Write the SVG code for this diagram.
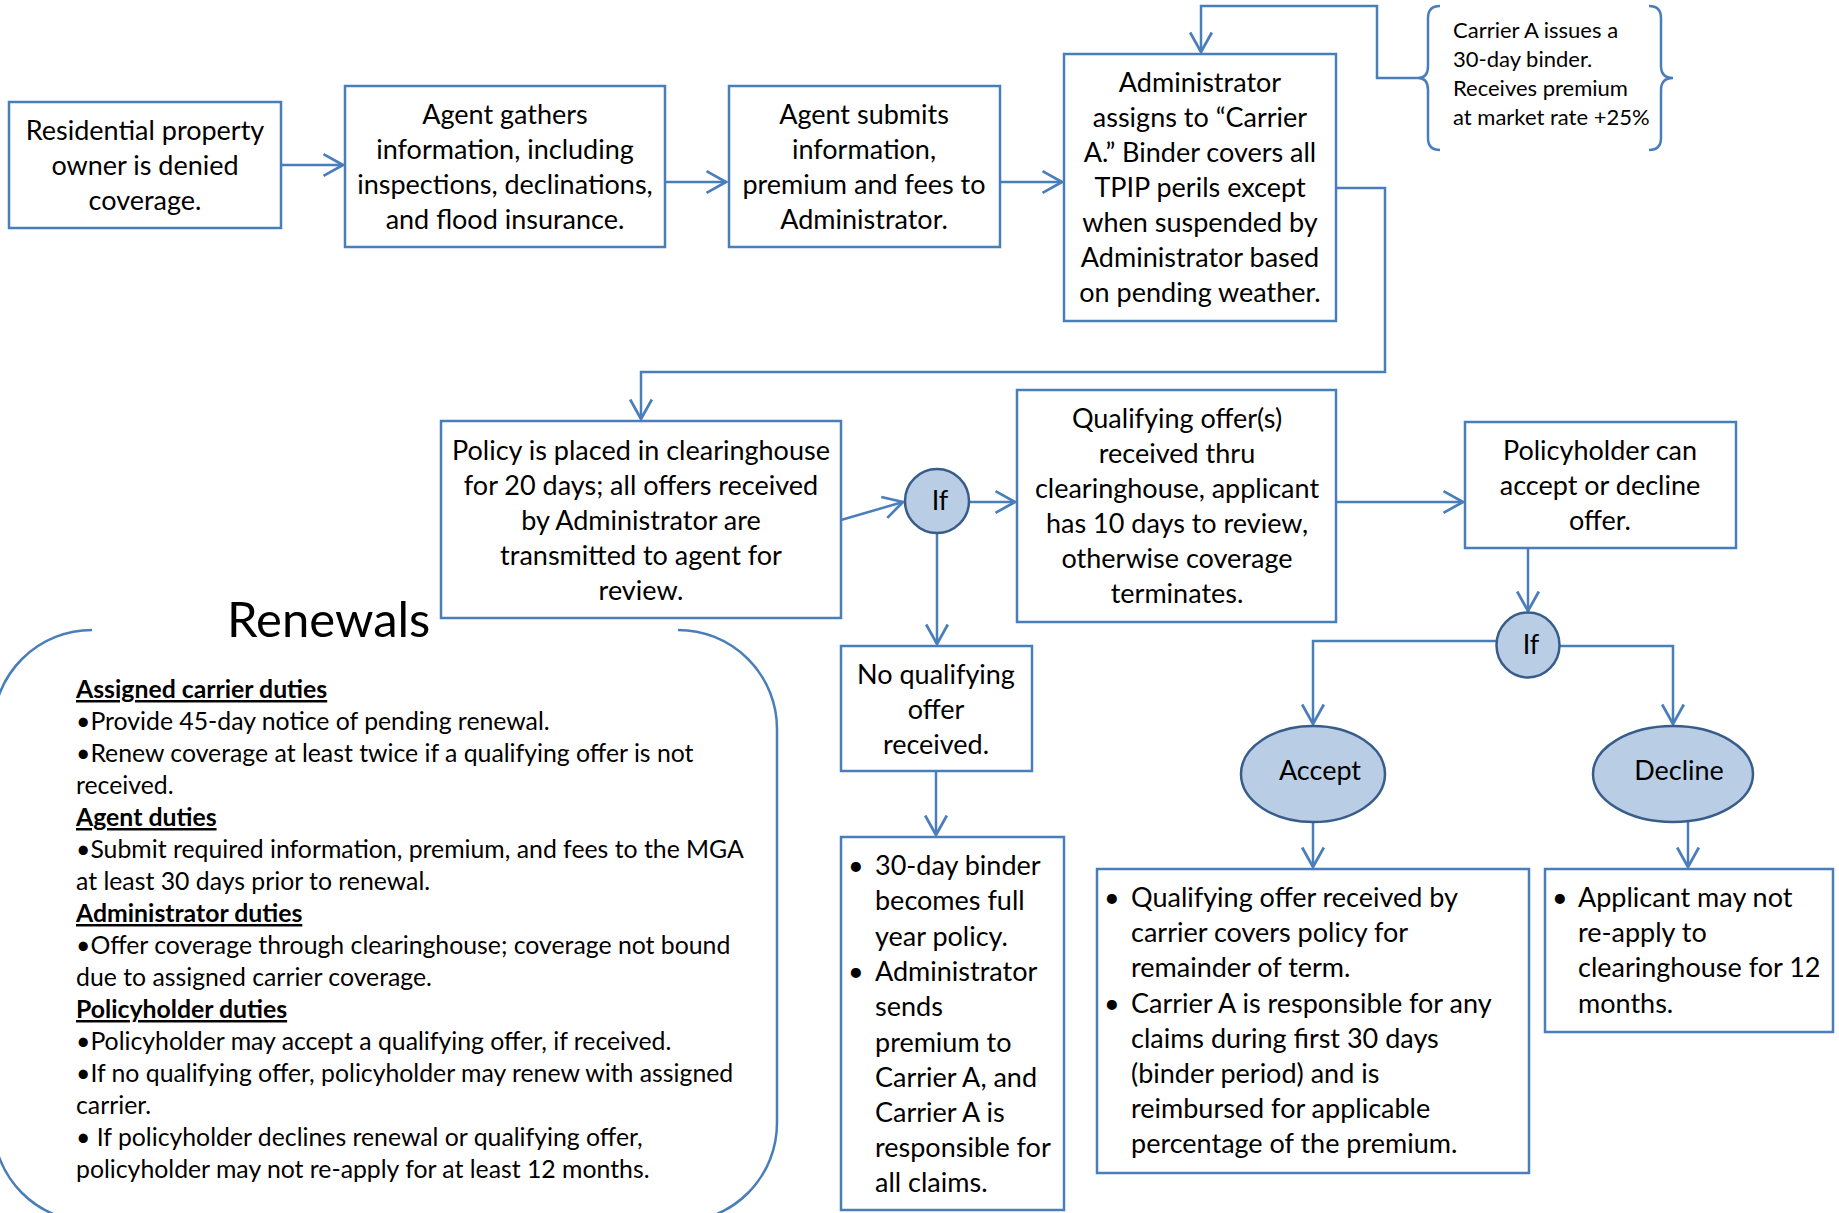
<svg xmlns="http://www.w3.org/2000/svg" width="1839" height="1213" viewBox="0 0 1839 1213">
<style>
  .box { fill: #ffffff; stroke: #4a7ebb; stroke-width: 2.5; }
  .dec { fill: #b9cde5; stroke: #385d8a; stroke-width: 2.5; }
  .con { fill: none; stroke: #4a7ebb; stroke-width: 2.5; }
  .t { font-family: Lato, "Liberation Sans", sans-serif; font-size: 27px; fill: #000; }
  .c { text-anchor: middle; }
  .s { font-family: Lato, "Liberation Sans", sans-serif; font-size: 22px; fill: #000; }
  .r { font-family: Lato, "Liberation Sans", sans-serif; font-size: 24.8px; fill: #000; }
  .h { font-weight: bold; text-decoration: underline; }
  .title { font-family: Lato, "Liberation Sans", sans-serif; font-size: 49px; fill: #000; }
</style>
<defs>
  <marker id="arr" markerUnits="userSpaceOnUse" markerWidth="24" markerHeight="26" viewBox="-20 -12 22 24" refX="0" refY="0" orient="auto">
    <path d="M-18,-10 L0,0 L-18,10" fill="none" stroke="#4a7ebb" stroke-width="2.5"/>
  </marker>
</defs>
<rect width="1839" height="1213" fill="#ffffff"/>

<g id="connectors">
  <path class="con" d="M281,165 L343,165" marker-end="url(#arr)"/>
  <path class="con" d="M665,182 L726,182" marker-end="url(#arr)"/>
  <path class="con" d="M1000,182 L1062,182" marker-end="url(#arr)"/>
  <path class="con" d="M1418,78 L1377,78 L1377,6 L1201,6 L1201,52" marker-end="url(#arr)"/>
  <path class="con" d="M1336,188 L1385,188 L1385,372 L641,372 L641,419" marker-end="url(#arr)"/>
  <path class="con" d="M841,520 L903,502" marker-end="url(#arr)"/>
  <path class="con" d="M969,502 L1015,502" marker-end="url(#arr)"/>
  <path class="con" d="M937,534 L937,644" marker-end="url(#arr)"/>
  <path class="con" d="M1337,502 L1463,502" marker-end="url(#arr)"/>
  <path class="con" d="M1528,548 L1528,611" marker-end="url(#arr)"/>
  <path class="con" d="M1497,641 L1313,641 L1313,724" marker-end="url(#arr)"/>
  <path class="con" d="M1560,646 L1673,646 L1673,724" marker-end="url(#arr)"/>
  <path class="con" d="M1313,822 L1313,867" marker-end="url(#arr)"/>
  <path class="con" d="M1688,821 L1688,867" marker-end="url(#arr)"/>
  <path class="con" d="M936,771 L936,835" marker-end="url(#arr)"/>
</g>

<g id="n1">
  <rect class="box" x="9" y="102" width="272" height="126"/>
  <text class="t c"><tspan x="145" y="140">Residential property</tspan><tspan x="145" y="175">owner is denied</tspan><tspan x="145" y="210">coverage.</tspan></text>
</g>
<g id="n2">
  <rect class="box" x="345" y="86" width="320" height="161"/>
  <text class="t c"><tspan x="505" y="124">Agent gathers</tspan><tspan x="505" y="159">information, including</tspan><tspan x="505" y="194">inspections, declinations,</tspan><tspan x="505" y="229">and flood insurance.</tspan></text>
</g>
<g id="n3">
  <rect class="box" x="729" y="86" width="271" height="161"/>
  <text class="t c"><tspan x="864" y="124">Agent submits</tspan><tspan x="864" y="159">information,</tspan><tspan x="864" y="194">premium and fees to</tspan><tspan x="864" y="229">Administrator.</tspan></text>
</g>
<g id="n4">
  <rect class="box" x="1064" y="54" width="272" height="267"/>
  <text class="t c"><tspan x="1200" y="92">Administrator</tspan><tspan x="1200" y="127">assigns to “Carrier</tspan><tspan x="1200" y="162">A.” Binder covers all</tspan><tspan x="1200" y="197">TPIP perils except</tspan><tspan x="1200" y="232">when suspended by</tspan><tspan x="1200" y="267">Administrator based</tspan><tspan x="1200" y="302">on pending weather.</tspan></text>
</g>
<g id="brace-note">
  <path class="con" d="M1440,6 Q1428,6 1428,18 L1428,66 Q1428,78 1418,78 Q1428,78 1428,90 L1428,138 Q1428,150 1440,150"/>
  <path class="con" d="M1649,6 Q1661,6 1661,18 L1661,66 Q1661,78 1673,78 Q1661,78 1661,90 L1661,138 Q1661,150 1649,150"/>
  <text class="s"><tspan x="1453" y="38">Carrier A issues a</tspan><tspan x="1453" y="67">30-day binder.</tspan><tspan x="1453" y="96">Receives premium</tspan><tspan x="1453" y="125">at market rate +25%</tspan></text>
</g>
<g id="n5">
  <rect class="box" x="441" y="421" width="400" height="197"/>
  <text class="t c"><tspan x="641" y="460">Policy is placed in clearinghouse</tspan><tspan x="641" y="495">for 20 days; all offers received</tspan><tspan x="641" y="530">by Administrator are</tspan><tspan x="641" y="565">transmitted to agent for</tspan><tspan x="641" y="600">review.</tspan></text>
</g>
<g id="if1">
  <ellipse class="dec" cx="937" cy="501" rx="32" ry="32"/>
  <text class="t c" x="940" y="510">If</text>
</g>
<g id="n6">
  <rect class="box" x="1017" y="390" width="319" height="232"/>
  <text class="t c"><tspan x="1177" y="428">Qualifying offer(s)</tspan><tspan x="1177" y="463">received thru</tspan><tspan x="1177" y="498">clearinghouse, applicant</tspan><tspan x="1177" y="533">has 10 days to review,</tspan><tspan x="1177" y="568">otherwise coverage</tspan><tspan x="1177" y="603">terminates.</tspan></text>
</g>
<g id="n7">
  <rect class="box" x="1465" y="422" width="271" height="126"/>
  <text class="t c"><tspan x="1600" y="460">Policyholder can</tspan><tspan x="1600" y="495">accept or decline</tspan><tspan x="1600" y="530">offer.</tspan></text>
</g>
<g id="if2">
  <ellipse class="dec" cx="1528" cy="645" rx="31.5" ry="32.5"/>
  <text class="t c" x="1531" y="654">If</text>
</g>
<g id="accept">
  <ellipse class="dec" cx="1313" cy="774" rx="72" ry="48"/>
  <text class="t c" x="1320" y="780">Accept</text>
</g>
<g id="decline">
  <ellipse class="dec" cx="1673" cy="774" rx="80" ry="48"/>
  <text class="t c" x="1679" y="780">Decline</text>
</g>
<g id="n8">
  <rect class="box" x="841" y="646" width="191" height="125"/>
  <text class="t c"><tspan x="936" y="684">No qualifying</tspan><tspan x="936" y="719">offer</tspan><tspan x="936" y="754">received.</tspan></text>
</g>
<g id="n9">
  <rect class="box" x="841" y="837" width="223" height="373"/>
  <text class="t"><tspan x="848" y="875">•</tspan><tspan x="875" y="875">30-day binder</tspan><tspan x="875" y="910">becomes full</tspan><tspan x="875" y="946">year policy.</tspan><tspan x="848" y="981">•</tspan><tspan x="875" y="981">Administrator</tspan><tspan x="875" y="1016">sends</tspan><tspan x="875" y="1052">premium to</tspan><tspan x="875" y="1087">Carrier A, and</tspan><tspan x="875" y="1122">Carrier A is</tspan><tspan x="875" y="1157">responsible for</tspan><tspan x="875" y="1192">all claims.</tspan></text>
</g>
<g id="n10">
  <rect class="box" x="1097" y="869" width="432" height="304"/>
  <text class="t"><tspan x="1104" y="907">•</tspan><tspan x="1131" y="907">Qualifying offer received by</tspan><tspan x="1131" y="942">carrier covers policy for</tspan><tspan x="1131" y="977">remainder of term.</tspan><tspan x="1104" y="1013">•</tspan><tspan x="1131" y="1013">Carrier A is responsible for any</tspan><tspan x="1131" y="1048">claims during first 30 days</tspan><tspan x="1131" y="1083">(binder period) and is</tspan><tspan x="1131" y="1118">reimbursed for applicable</tspan><tspan x="1131" y="1153">percentage of the premium.</tspan></text>
</g>
<g id="n11">
  <rect class="box" x="1545" y="869" width="288" height="163"/>
  <text class="t"><tspan x="1552" y="907">•</tspan><tspan x="1578" y="907">Applicant may not</tspan><tspan x="1578" y="942">re-apply to</tspan><tspan x="1578" y="977">clearinghouse for 12</tspan><tspan x="1578" y="1013">months.</tspan></text>
</g>
<g id="renewals">
  <path class="con" d="M92,630 A99,99 0 0 0 -7,729 L-7,1123 A99,99 0 0 0 92,1222 L678,1222 A99,99 0 0 0 777,1123 L777,729 A99,99 0 0 0 678,630"/>
  <text class="title" x="227" y="637">Renewals</text>
  <text class="r">
    <tspan class="h" x="76" y="698">Assigned carrier duties</tspan>
    <tspan x="76" y="730">•Provide 45-day notice of pending renewal.</tspan>
    <tspan x="76" y="762">•Renew coverage at least twice if a qualifying offer is not</tspan>
    <tspan x="76" y="794">received.</tspan>
    <tspan class="h" x="76" y="826">Agent duties</tspan>
    <tspan x="76" y="858">•Submit required information, premium, and fees to the MGA</tspan>
    <tspan x="76" y="890">at least 30 days prior to renewal.</tspan>
    <tspan class="h" x="76" y="922">Administrator duties</tspan>
    <tspan x="76" y="954">•Offer coverage through clearinghouse; coverage not bound</tspan>
    <tspan x="76" y="986">due to assigned carrier coverage.</tspan>
    <tspan class="h" x="76" y="1018">Policyholder duties</tspan>
    <tspan x="76" y="1050">•Policyholder may accept a qualifying offer, if received.</tspan>
    <tspan x="76" y="1082">•If no qualifying offer, policyholder may renew with assigned</tspan>
    <tspan x="76" y="1114">carrier.</tspan>
    <tspan x="76" y="1146">• If policyholder declines renewal or qualifying offer,</tspan>
    <tspan x="76" y="1178">policyholder may not re-apply for at least 12 months.</tspan>
  </text>
</g>
</svg>
